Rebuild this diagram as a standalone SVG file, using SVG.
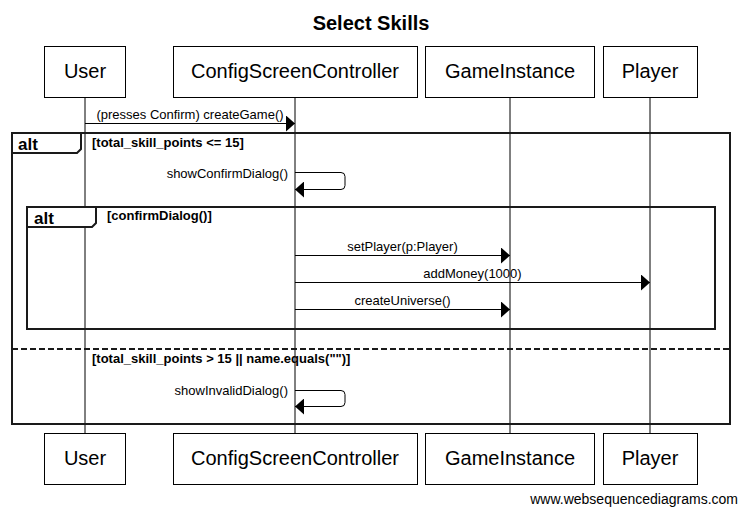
<svg xmlns="http://www.w3.org/2000/svg" width="739" height="507" viewBox="0 0 739 507">
<style>
text{font-family:"Liberation Sans",Arial,sans-serif;fill:#000}
.title{font-size:20px;font-weight:bold}
.pname{font-size:20px}
.msg{font-size:13px}
.guard{font-size:13px;font-weight:bold}
.altl{font-size:17px;font-weight:bold}
.box{fill:#fff;stroke:#000;stroke-width:1}
.life{stroke:#000;stroke-width:1}
.frame{fill:none;stroke:#1a1a1a;stroke-width:2}
.tab{fill:#fff;stroke:#1a1a1a;stroke-width:2}
.line{stroke:#000;stroke-width:1;fill:none}
</style>
<defs>
<marker id="ah" markerWidth="10" markerHeight="16" refX="9" refY="8" orient="auto" markerUnits="userSpaceOnUse">
<path d="M0,0 L9,8 L0,16 Z" fill="#000"/>
</marker>
</defs>
<rect width="739" height="507" fill="#fff"/>
<text class="title" x="371" y="30" text-anchor="middle">Select Skills</text>

<g id="lifelines">
<line class="life" x1="85" y1="97" x2="85" y2="434"/>
<line class="life" x1="295" y1="97" x2="295" y2="434"/>
<line class="life" x1="510" y1="97" x2="510" y2="434"/>
<line class="life" x1="650" y1="97" x2="650" y2="434"/>
</g>

<g id="frames">
<rect class="frame" x="12" y="133" width="718" height="291"/>
<path class="tab" d="M12,133 L81,133 L81,149 L77,153 L12,153 Z"/>
<text class="altl" x="18" y="150">alt</text>
<text class="guard" x="92" y="147">[total_skill_points &lt;= 15]</text>
<line x1="12" y1="349" x2="730" y2="349" stroke="#1a1a1a" stroke-width="2" stroke-dasharray="6,3"/>
<text class="guard" x="92" y="363">[total_skill_points &gt; 15 || name.equals("")]</text>
<rect class="frame" x="27" y="207" width="688" height="122"/>
<path class="tab" d="M27,207 L96,207 L96,223 L92,227 L27,227 Z"/>
<text class="altl" x="34" y="224">alt</text>
<text class="guard" x="107" y="220">[confirmDialog()]</text>
</g>

<g id="node-user">
<rect class="box" x="44.5" y="46.5" width="81" height="51"/>
<text class="pname" x="85" y="78" text-anchor="middle">User</text>
<rect class="box" x="44.5" y="433.5" width="81" height="51"/>
<text class="pname" x="85" y="465" text-anchor="middle">User</text>
</g>
<g id="node-config">
<rect class="box" x="173.5" y="46.5" width="244" height="51"/>
<text class="pname" x="295" y="78" text-anchor="middle">ConfigScreenController</text>
<rect class="box" x="173.5" y="433.5" width="244" height="51"/>
<text class="pname" x="295" y="465" text-anchor="middle">ConfigScreenController</text>
</g>
<g id="node-game">
<rect class="box" x="425.5" y="46.5" width="169" height="51"/>
<text class="pname" x="510" y="78" text-anchor="middle">GameInstance</text>
<rect class="box" x="425.5" y="433.5" width="169" height="51"/>
<text class="pname" x="510" y="465" text-anchor="middle">GameInstance</text>
</g>
<g id="node-player">
<rect class="box" x="603.5" y="46.5" width="94" height="51"/>
<text class="pname" x="650" y="78" text-anchor="middle">Player</text>
<rect class="box" x="603.5" y="433.5" width="94" height="51"/>
<text class="pname" x="650" y="465" text-anchor="middle">Player</text>
</g>

<g id="connectors">
<line class="line" x1="85" y1="123.5" x2="295" y2="123.5" marker-end="url(#ah)"/>
<text class="msg" x="190" y="119" text-anchor="middle">(presses Confirm) createGame()</text>

<path class="line" d="M295,172.5 L341,172.5 Q345,172.5 345,176.5 L345,185.5 Q345,189.5 341,189.5 L295,189.5" marker-end="url(#ah)"/>
<text class="msg" x="288" y="178" text-anchor="end">showConfirmDialog()</text>

<line class="line" x1="295" y1="255.5" x2="510" y2="255.5" marker-end="url(#ah)"/>
<text class="msg" x="402.5" y="251" text-anchor="middle">setPlayer(p:Player)</text>

<line class="line" x1="295" y1="282.5" x2="650" y2="282.5" marker-end="url(#ah)"/>
<text class="msg" x="472.5" y="278" text-anchor="middle">addMoney(1000)</text>

<line class="line" x1="295" y1="309.5" x2="510" y2="309.5" marker-end="url(#ah)"/>
<text class="msg" x="402.5" y="305" text-anchor="middle">createUniverse()</text>

<path class="line" d="M295,390.5 L341,390.5 Q345,390.5 345,394.5 L345,402.5 Q345,406.5 341,406.5 L295,406.5" marker-end="url(#ah)"/>
<text class="msg" x="288" y="395" text-anchor="end">showInvalidDialog()</text>
</g>

<text x="738" y="504" text-anchor="end" style="font-size:14px">www.websequencediagrams.com</text>
</svg>
